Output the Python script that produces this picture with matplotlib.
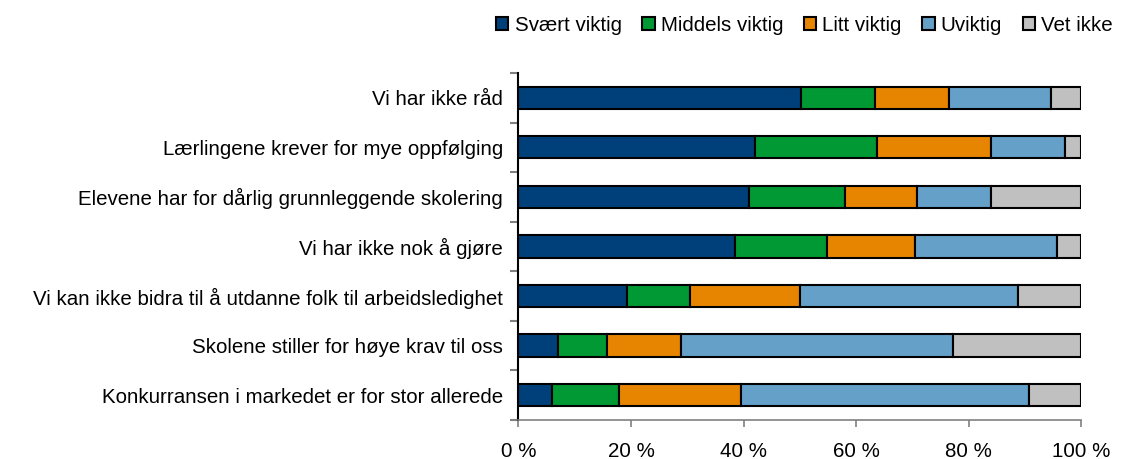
import numpy as np
import matplotlib.pyplot as plt
from matplotlib.ticker import FuncFormatter

plt.rcParams['font.family'] = ['Liberation Sans', 'DejaVu Sans']

# Reasons, top to bottom
reasons = [
    "Vi har ikke råd",
    "Lærlingene krever for mye oppfølging",
    "Elevene har for dårlig grunnleggende skolering",
    "Vi har ikke nok å gjøre",
    "Vi kan ikke bidra til å utdanne folk til arbeidsledighet",
    "Skolene stiller for høye krav til oss",
    "Konkurransen i markedet er for stor allerede",
]

# Shares in percent per answer category
svaert_viktig = [50.2, 42.0, 40.9, 38.4, 19.2, 7.1, 6.0]
middels_viktig = [13.2, 21.7, 17.1, 16.4, 11.3, 8.6, 11.8]
litt_viktig = [13.1, 20.3, 12.8, 15.7, 19.6, 13.1, 21.7]
uviktig = [18.2, 13.2, 13.2, 25.3, 38.6, 48.4, 51.3]
vet_ikke = [5.3, 2.8, 16.0, 4.2, 11.3, 22.8, 9.2]

series = [svaert_viktig, middels_viktig, litt_viktig, uviktig, vet_ikke]
names = ["Svært viktig", "Middels viktig", "Litt viktig", "Uviktig", "Vet ikke"]
colors = ["#00407A", "#009933", "#E88500", "#64A0C8", "#C0C0C0"]

fs = 14.8

fig = plt.figure(figsize=(11.23, 4.59), dpi=100)
ax = fig.add_axes([0.4617, 0.085, 0.501, 0.756])

y = np.arange(len(reasons))
left = np.zeros(len(reasons))
for vals, name, col in zip(series, names, colors):
    vals = np.array(vals)
    ax.barh(y, vals, left=left, height=0.45, color=col, edgecolor="black",
            linewidth=1.5, label=name)
    left += vals

ax.set_xlim(0, 100)
ax.set_ylim(len(reasons) - 0.5, -0.5)
ax.set_xticks(np.arange(0, 101, 20))
ax.xaxis.set_major_formatter(FuncFormatter(lambda v, p: f"{v:.0f} %"))
ax.set_yticks(y)
ax.set_yticklabels(reasons, fontsize=fs)
ax.tick_params(axis="y", length=0, pad=11)
# category boundary ticks on the y axis
ax.set_yticks(np.arange(-0.5, len(reasons), 1), minor=True)
ax.tick_params(axis="y", which="minor", length=6, color="#808080", width=1.5)
ax.tick_params(axis="x", labelsize=fs, length=5, color="#808080", width=1.2, pad=10.5)

for s in ["top", "right"]:
    ax.spines[s].set_visible(False)
ax.spines["left"].set_color("black")
ax.spines["left"].set_linewidth(1.5)
ax.spines["bottom"].set_color("#808080")
ax.spines["bottom"].set_linewidth(1.2)

fig.legend(loc="center right", bbox_to_anchor=(1.0, 0.945), ncol=5,
           frameon=False, fontsize=fs, handlelength=0.6, handleheight=0.6,
           handletextpad=0.3, columnspacing=1.0, borderaxespad=0.1)

fig.savefig("out.png", dpi=100)
